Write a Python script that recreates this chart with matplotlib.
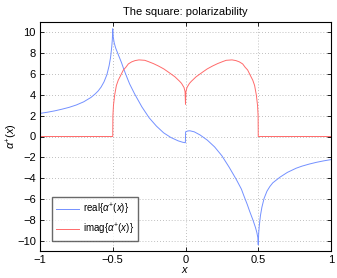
import matplotlib
matplotlib.use("Agg")
import matplotlib.pyplot as plt

plt.rcParams['font.family'] = ['Liberation Sans', 'DejaVu Sans']
plt.rcParams['mathtext.fontset'] = 'custom'
plt.rcParams['mathtext.rm'] = 'Liberation Sans'
plt.rcParams['mathtext.it'] = 'Liberation Sans:italic'

# real part of alpha+(x)
real_x = [-1.0, -0.95, -0.9, -0.85, -0.8, -0.75, -0.7, -0.65, -0.62, -0.6, -0.58, -0.56, -0.54,
          -0.525, -0.515, -0.507, -0.503, -0.5,
          -0.497, -0.49, -0.48, -0.463, -0.44, -0.425, -0.4, -0.384, -0.35, -0.3, -0.25, -0.2,
          -0.15, -0.1, -0.05, -0.02, -0.001,
          0.001, 0.015, 0.03, 0.06, 0.1, 0.15, 0.2, 0.25, 0.3, 0.35, 0.384, 0.4, 0.425, 0.44,
          0.463, 0.48, 0.49, 0.497, 0.5,
          0.503, 0.507, 0.515, 0.525, 0.54, 0.56, 0.58, 0.6, 0.65, 0.7, 0.76, 0.8, 0.85, 0.9,
          0.95, 1.0]
real_y = [2.22, 2.33, 2.46, 2.62, 2.8, 3.03, 3.33, 3.75, 4.1, 4.38, 4.75, 5.25, 5.95,
          6.8, 7.6, 8.6, 9.3, 10.35,
          9.6, 9.0, 8.5, 7.9, 7.1, 6.5, 5.6, 5.05, 4.1, 2.85, 1.8, 1.0,
          0.35, -0.1, -0.42, -0.55, -0.6,
          0.45, 0.53, 0.55, 0.45, 0.15, -0.35, -1.0, -1.85, -2.95, -4.15, -5.05, -5.65, -6.55,
          -7.15, -8.0, -8.7, -9.2, -9.7, -10.4,
          -9.3, -8.6, -7.6, -6.8, -5.95, -5.25, -4.8, -4.45, -3.9, -3.45, -3.05, -2.85, -2.65,
          -2.48, -2.34, -2.22]

# imaginary part of alpha+(x)
imag_x = [-1.0, -0.5, -0.5, -0.499, -0.495, -0.487, -0.475, -0.462, -0.448, -0.427, -0.41, -0.393,
          -0.37, -0.347, -0.32, -0.28, -0.256, -0.22, -0.187, -0.15, -0.119, -0.073, -0.04,
          -0.027, -0.01, -0.003, 0.0,
          0.003, 0.01, 0.027, 0.04, 0.073, 0.119, 0.15, 0.187, 0.22, 0.256, 0.28, 0.32, 0.347,
          0.37, 0.393, 0.41, 0.427, 0.448, 0.462, 0.475, 0.487, 0.495, 0.499, 0.5, 0.5, 1.0]
imag_y = [0.0, 0.0, 0.0, 2.0, 3.0, 3.97, 4.9, 5.42, 5.8, 6.39, 6.65, 6.97,
          7.17, 7.29, 7.36, 7.32, 7.2, 7.0, 6.78, 6.5, 6.2, 5.74, 5.3,
          5.1, 4.7, 4.3, 3.1,
          4.3, 4.7, 5.1, 5.3, 5.74, 6.2, 6.5, 6.78, 7.0, 7.2, 7.32, 7.36, 7.29,
          7.17, 6.97, 6.65, 6.39, 5.8, 5.42, 4.9, 3.97, 3.0, 2.0, 0.0, 0.0, 0.0]

xticks = [-1, -0.5, 0, 0.5, 1]
xticklabels = ['\u22121', '\u22120.5', '0', '0.5', '1']
yticks = [-10, -8, -6, -4, -2, 0, 2, 4, 6, 8, 10]
yticklabels = ['\u221210', '\u22128', '\u22126', '\u22124', '\u22122', '0', '2', '4', '6', '8', '10']

fig = plt.figure(figsize=(3.37, 2.78), dpi=100)
ax = fig.add_axes([40/337, 27/278, 291/337, 229/278])

ax.plot(real_x, real_y, color='#7390ff', lw=0.7, label=r'real{$\alpha^{+}$($x$)}')
ax.plot(imag_x, imag_y, color='#ff6a6a', lw=0.7, label=r'imag{$\alpha^{+}$($x$)}')

ax.set_xlim(-1, 1)
ax.set_ylim(-11, 11)
ax.set_xticks(xticks)
ax.set_xticklabels(xticklabels)
ax.set_yticks(yticks)
ax.set_yticklabels(yticklabels)
ax.tick_params(direction='in', top=True, right=True, labelsize=8, length=3, width=0.6, pad=3)
ax.grid(True, linestyle=(0, (1, 2.5)), color='#aaaaaa', lw=0.6)
for s in ax.spines.values():
    s.set_linewidth(0.8)

ax.set_title('The square: polarizability', fontsize=8, pad=5)
ax.set_xlabel('$x$', fontsize=8, labelpad=0)
ax.set_ylabel(r'$\alpha^{+}$($x$)', fontsize=8)
ax.yaxis.set_label_coords(-0.07, 0.5)

leg = ax.legend(loc='lower left', bbox_to_anchor=(0.04, 0.045), fontsize=7, frameon=True,
                fancybox=False, edgecolor='#444444', handlelength=2.4, handletextpad=0.4,
                borderpad=0.4, labelspacing=0.5, borderaxespad=0)
leg.get_frame().set_linewidth(1.0)

fig.savefig('out.png', dpi=100)
